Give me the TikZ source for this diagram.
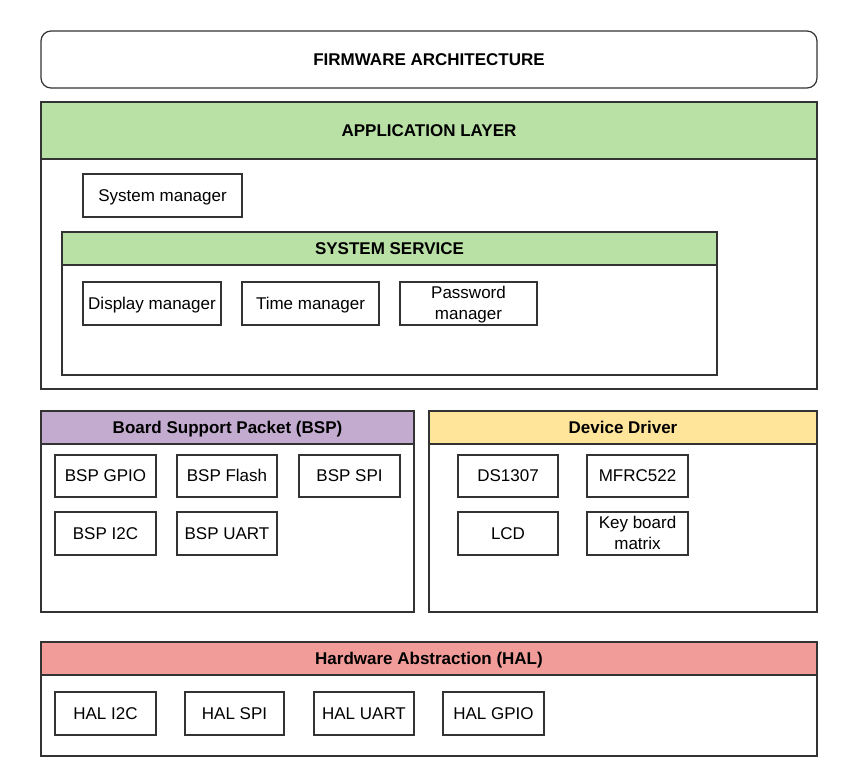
\documentclass[tikz,border=0pt]{standalone}
\usepackage{fontspec}
\setmainfont{Liberation Sans}
\usetikzlibrary{shapes}
\definecolor{appgreen}{HTML}{B9E0A5}
\definecolor{bsppurple}{HTML}{C3ABD0}
\definecolor{drvyellow}{HTML}{FFE599}
\definecolor{halred}{HTML}{F19C99}
\tikzstyle{layer} = [draw=black!80, line width=1.2pt, inner sep=0pt, fill=white, text height=15pt, text depth=4pt]
\tikzstyle{header} = [layer, font=\fontsize{17}{21}\selectfont\bfseries]
\tikzstyle{module} = [layer, align=center, font=\fontsize{17}{21}\selectfont]
\tikzstyle{twoline} = [module, text height=36pt]

\begin{document}
\begin{tikzpicture}[x=1pt, y=-1pt]
    \useasboundingbox (0,0) rectangle (864,780);
    % Title.
    \node [header, rounded corners=10pt, minimum width=776pt, minimum height=57pt] (title) at (429, 59.5) {FIRMWARE ARCHITECTURE};
    % Application layer.
    \node [layer, minimum width=776pt, minimum height=287pt] (app) at (429, 245.5) {};
    \node [header, fill=appgreen, minimum width=776pt, minimum height=57pt] (apphead) at (429, 130.5) {APPLICATION LAYER};
    \node [module, minimum width=159pt, minimum height=43pt] (sysmgr) at (162.5, 195.5) {System manager};
    % System service.
    \node [layer, minimum width=655pt, minimum height=143pt] (service) at (389.5, 303.5) {};
    \node [header, fill=appgreen, minimum width=655pt, minimum height=33pt] (servicehead) at (389.5, 248.5) {SYSTEM SERVICE};
    \node [module, minimum width=138pt, minimum height=43pt] (dispmgr) at (152, 303.5) {Display manager};
    \node [module, minimum width=137pt, minimum height=43pt] (timemgr) at (310.5, 303.5) {Time manager};
    \node [twoline, minimum width=137pt, minimum height=43pt] (passmgr) at (468.5, 303.5) {Password\\manager};
    % Board support packet.
    \node [layer, minimum width=373pt, minimum height=201pt] (bsp) at (227.5, 511.5) {};
    \node [header, fill=bsppurple, minimum width=373pt, minimum height=33pt] (bsphead) at (227.5, 427.5) {Board Support Packet (BSP)};
    \node [module, minimum width=101pt, minimum height=42pt] (bspgpio) at (105.5, 476) {BSP GPIO};
    \node [module, minimum width=100pt, minimum height=42pt] (bspflash) at (227, 476) {BSP Flash};
    \node [module, minimum width=101pt, minimum height=42pt] (bspspi) at (349.5, 476) {BSP SPI};
    \node [module, minimum width=101pt, minimum height=43pt] (bspi2c) at (105.5, 533.5) {BSP I2C};
    \node [module, minimum width=100pt, minimum height=43pt] (bspuart) at (227, 533.5) {BSP UART};
    % Device driver.
    \node [layer, minimum width=388pt, minimum height=201pt] (drv) at (623, 511.5) {};
    \node [header, fill=drvyellow, minimum width=388pt, minimum height=33pt] (drvhead) at (623, 427.5) {Device Driver};
    \node [module, minimum width=100pt, minimum height=42pt] (ds1307) at (508, 476) {DS1307};
    \node [module, minimum width=101pt, minimum height=42pt] (mfrc) at (637.5, 476) {MFRC522};
    \node [module, minimum width=100pt, minimum height=43pt] (lcd) at (508, 533.5) {LCD};
    \node [twoline, minimum width=101pt, minimum height=43pt] (keypad) at (637.5, 533.5) {Key board\\matrix};
    % Hardware abstraction.
    \node [layer, minimum width=776pt, minimum height=114pt] (hal) at (429, 699) {};
    \node [header, fill=halred, minimum width=776pt, minimum height=33pt] (halhead) at (429, 658.5) {Hardware Abstraction (HAL)};
    \node [module, minimum width=101pt, minimum height=43pt] (hali2c) at (105.5, 713.5) {HAL I2C};
    \node [module, minimum width=99pt, minimum height=43pt] (halspi) at (234.5, 713.5) {HAL SPI};
    \node [module, minimum width=100pt, minimum height=43pt] (haluart) at (364, 713.5) {HAL UART};
    \node [module, minimum width=101pt, minimum height=43pt] (halgpio) at (493.5, 713.5) {HAL GPIO};
\end{tikzpicture}
\end{document}
